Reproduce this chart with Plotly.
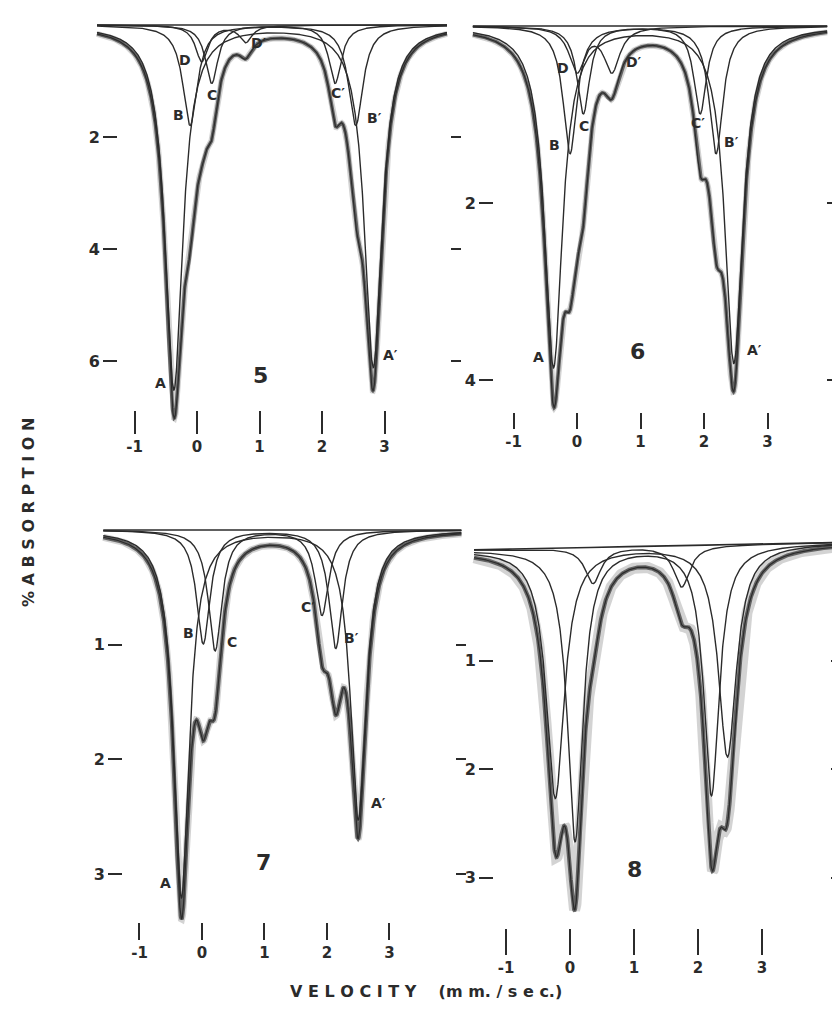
import numpy as np
import plotly.graph_objects as go

# ---------------- DATA ----------------
# Each spectrum: doublets (left line, right line), depth in % absorption, half width (mm/s)
p5_names = ["A", "B", "C", "D"]
p5_pos1 = [-0.37, -0.11, 0.235, 0.075]
p5_pos2 = [2.82, 2.54, 2.21, 0.78]
p5_dep1 = [6.5, 1.79, 1.04, 0.65]
p5_dep2 = [6.1, 1.79, 1.04, 0.30]
p5_hw = [0.17, 0.14, 0.12, 0.12]
p5_span = [-1.6, 4.0]
p5_base = [0.0, 0.0]

p6_names = ["A", "B", "C", "D"]
p6_pos1 = [-0.37, -0.11, 0.10, 0.0]
p6_pos2 = [2.47, 2.19, 1.94, 0.55]
p6_dep1 = [3.85, 1.44, 0.99, 0.5]
p6_dep2 = [3.8, 1.44, 0.99, 0.5]
p6_hw = [0.17, 0.13, 0.12, 0.15]
p6_span = [-1.64, 3.94]
p6_base = [0.0, 0.0]

p7_names = ["A", "B", "C"]
p7_pos1 = [-0.33, 0.02, 0.21]
p7_pos2 = [2.50, 2.14, 1.92]
p7_dep1 = [3.2, 0.99, 1.05]
p7_dep2 = [2.52, 1.03, 0.74]
p7_hw = [0.15, 0.13, 0.13]
p7_span = [-1.58, 4.15]
p7_base = [0.0, 0.0]

p8_names = ["1", "2", "3"]
p8_pos1 = [-0.23, 0.08, 0.36]
p8_pos2 = [2.46, 2.21, 1.745]
p8_dep1 = [2.3, 2.7, 0.33]
p8_dep2 = [1.95, 2.3, 0.38]
p8_hw = [0.17, 0.145, 0.15]
p8_span = [-1.5, 4.3]
p8_base = [-0.02, -0.09]

vel_ticks = [-1, 0, 1, 2, 3]
vel_ticktext = ["-1", "0", "1", "2", "3"]
p5_yticks = [2, 4, 6]
p6_yticks = [2, 4]
p7_yticks = [1, 2, 3]
p8_yticks = [1, 2, 3]

p5_labels = [("A", -0.59, 6.39), ("A′", 3.09, 5.89), ("B", -0.30, 1.61), ("B′", 2.84, 1.66),
             ("C", 0.24, 1.25), ("C′", 2.26, 1.21), ("D", -0.19, 0.63), ("D′", 0.99, 0.32)]
p6_labels = [("A", -0.60, 3.74), ("A′", 2.79, 3.66), ("B", -0.35, 1.34), ("B′", 2.43, 1.31),
             ("C", 0.11, 1.13), ("C′", 1.91, 1.10), ("D", -0.22, 0.47), ("D′", 0.90, 0.41)]
p7_labels = [("A", -0.58, 3.08), ("A′", 2.82, 2.38), ("B", -0.22, 0.90), ("B′", 2.39, 0.94),
             ("C", 0.48, 0.98), ("C′", 1.70, 0.67)]
p8_labels = []
panel_numbers = ["5", "6", "7", "8"]
panel_number_pos = [(1.02, 6.25), (0.96, 3.68), (0.98, 2.90), (1.0, 2.93)]

# ---------------- LAYOUT CALIBRATION ----------------
W, H = 840, 1018
OFF = 8  # page body margin
def fx(px):
    return (px - OFF) / W
def fy(py):
    return 1 - (py - OFF) / H

panels = [
    dict(num=5, pos1=p5_pos1, pos2=p5_pos2, dep1=p5_dep1, dep2=p5_dep2, hw=p5_hw, span=p5_span,
         base=p5_base, yt=p5_yticks, labels=p5_labels,
         x0=197, xu=62.5, y0=25, yu=56, vr=(-1.68, 4.05), pr=(-0.3, 7.5),
         xpos=410, xlen=23, ypos=117, mpos=450, band=3.5, halo=6),
    dict(num=6, pos1=p6_pos1, pos2=p6_pos2, dep1=p6_dep1, dep2=p6_dep2, hw=p6_hw, span=p6_span,
         base=p6_base, yt=p6_yticks, labels=p6_labels,
         x0=577, xu=63.5, y0=26, yu=88.5, vr=(-1.7, 4.0), pr=(-0.2, 4.8),
         xpos=412, xlen=16, ypos=493, mpos=826, band=3.5, halo=6),
    dict(num=7, pos1=p7_pos1, pos2=p7_pos2, dep1=p7_dep1, dep2=p7_dep2, hw=p7_hw, span=p7_span,
         base=p7_base, yt=p7_yticks, labels=p7_labels,
         x0=202, xu=62.5, y0=530, yu=114.7, vr=(-1.65, 4.2), pr=(-0.2, 3.6),
         xpos=922, xlen=17, ypos=122, mpos=455, band=4, halo=7),
    dict(num=8, pos1=p8_pos1, pos2=p8_pos2, dep1=p8_dep1, dep2=p8_dep2, hw=p8_hw, span=p8_span,
         base=p8_base, yt=p8_yticks, labels=p8_labels,
         x0=570, xu=64, y0=552, yu=108.5, vr=(-1.55, 4.22), pr=(-0.4, 3.6),
         xpos=928, xlen=26, ypos=493, mpos=830, band=4, halo=11),
]

INK = "#2b2b2b"
FONT = "DejaVu Sans"

def lor(v, c, d, w):
    return d / (1 + ((v - c) / w) ** 2)

fig = go.Figure()
layout = {}
annotations = []

for i, p in enumerate(panels):
    k = i + 1
    m = i + 5
    xa = "x" if k == 1 else f"x{k}"
    ya = "y" if k == 1 else f"y{k}"
    ma = f"y{m}"
    v = np.linspace(p["span"][0], p["span"][1], 1500)
    base = p["base"][0] + (p["base"][1] - p["base"][0]) * (v - v[0]) / (v[-1] - v[0])

    comps = []
    for c1, c2, d1, d2, w in zip(p["pos1"], p["pos2"], p["dep1"], p["dep2"], p["hw"]):
        comps.append(lor(v, c1, d1, w) + lor(v, c2, d2, w))
    env = base + np.sum(comps, axis=0)

    # observed spectrum: light scatter halo + dark band following the fit envelope
    fig.add_trace(go.Scatter(x=v, y=env, mode="lines", xaxis=xa, yaxis=ya,
                             line=dict(color="rgba(110,110,110,0.30)", width=p["halo"]),
                             hoverinfo="skip", showlegend=False))
    fig.add_trace(go.Scatter(x=v, y=env, mode="lines", xaxis=xa, yaxis=ya,
                             line=dict(color="rgba(60,60,60,0.75)", width=p["band"]),
                             hoverinfo="skip", showlegend=False))
    # baseline (drawn on mirror axis so it exists)
    fig.add_trace(go.Scatter(x=v, y=base, mode="lines", xaxis=xa, yaxis=ma,
                             line=dict(color=INK, width=1.6), hoverinfo="skip", showlegend=False))
    for comp in comps:
        fig.add_trace(go.Scatter(x=v, y=base + comp, mode="lines", xaxis=xa, yaxis=ya,
                                 line=dict(color=INK, width=1.4), hoverinfo="skip", showlegend=False))
    fig.add_trace(go.Scatter(x=v, y=env, mode="lines", xaxis=xa, yaxis=ya,
                             line=dict(color=INK, width=1.2), hoverinfo="skip", showlegend=False))

    xdom = [fx(p["x0"] + p["vr"][0] * p["xu"]), min(1.0, fx(p["x0"] + p["vr"][1] * p["xu"]))]
    ydom = [fy(p["y0"] + p["pr"][1] * p["yu"]), fy(p["y0"] + p["pr"][0] * p["yu"])]
    yrange = [p["pr"][1], p["pr"][0]]

    layout["xaxis" if k == 1 else f"xaxis{k}"] = dict(
        domain=xdom, range=list(p["vr"]), anchor="free", position=fy(p["xpos"]),
        showgrid=False, zeroline=False, showline=False,
        ticks="outside", ticklen=p["xlen"], tickwidth=1.7, tickcolor=INK,
        tickvals=vel_ticks, ticktext=vel_ticktext,
        tickfont=dict(family=FONT, size=15, color=INK, weight="bold"))
    layout["yaxis" if k == 1 else f"yaxis{k}"] = dict(
        domain=ydom, range=yrange, anchor="free", position=fx(p["ypos"]), side="left",
        showgrid=False, zeroline=False, showline=False,
        ticks="outside", ticklen=14, tickwidth=2, tickcolor=INK,
        tickvals=p["yt"], ticktext=[str(t) for t in p["yt"]],
        tickfont=dict(family=FONT, size=16, color=INK, weight="bold"))
    layout[f"yaxis{m}"] = dict(
        overlaying=ya, range=yrange, anchor="free", position=fx(p["mpos"]), side="right",
        showgrid=False, zeroline=False, showline=False,
        ticks="outside", ticklen=10, tickwidth=1.8, tickcolor=INK,
        tickvals=p["yt"], showticklabels=False)

    for txt, lx, ly in p["labels"]:
        annotations.append(dict(text=txt, x=lx, y=ly, xref=xa, yref=ya, showarrow=False,
                                xanchor="center", yanchor="middle",
                                font=dict(family=FONT, size=14, color=INK, weight="bold")))
    nx, ny = panel_number_pos[i]
    annotations.append(dict(text=panel_numbers[i], x=nx, y=ny, xref=xa, yref=ya, showarrow=False,
                            xanchor="center", yanchor="middle",
                            font=dict(family=FONT, size=22, color=INK, weight="bold")))

annotations.append(dict(text="% A B S O R P T I O N", x=fx(28), y=fy(513), xref="paper", yref="paper",
                        textangle=-90, showarrow=False, xanchor="center", yanchor="middle",
                        font=dict(family=FONT, size=16, color=INK, weight="bold")))
annotations.append(dict(text="V E L O C I T Y &nbsp;&nbsp;&nbsp;(m m. / s e c.)", x=fx(426), y=fy(991),
                        xref="paper", yref="paper", showarrow=False, xanchor="center", yanchor="middle",
                        font=dict(family=FONT, size=16, color=INK, weight="bold")))

fig.update_layout(width=W, height=H, margin=dict(l=0, r=0, t=0, b=0),
                  paper_bgcolor="white", plot_bgcolor="white", showlegend=False,
                  annotations=annotations, **layout)

fig.write_html("out.html")
